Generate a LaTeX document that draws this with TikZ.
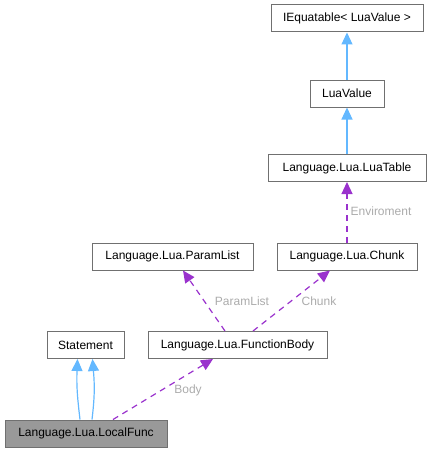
\documentclass[tikz,border=0pt]{standalone}
\usepackage{fontspec}
\setmainfont{Liberation Sans}
\usetikzlibrary{arrows.meta,calc}
\definecolor{boxline}{HTML}{707070}
\definecolor{inhblue}{HTML}{63B8FF}
\definecolor{usepurple}{HTML}{9A32CD}
\definecolor{lblgray}{HTML}{ABABAB}
\definecolor{curfill}{HTML}{999999}
\begin{document}
\begin{tikzpicture}[x=1pt,y=-1pt,
  cls/.style={draw=boxline,line width=1pt,fill=white,minimum height=27pt,inner sep=0pt,font=\fontsize{12}{14}\selectfont},
  inh/.style={draw=inhblue,line width=1.2pt,-{Triangle[width=11pt,length=12pt,fill=inhblue]}},
  usage/.style={draw=usepurple,line width=1.2pt,dash pattern=on 6pt off 5pt,-{Triangle[width=11pt,length=12pt,fill=usepurple]}},
  lbl/.style={text=lblgray,font=\fontsize{12}{14}\selectfont,inner sep=0pt}]
\useasboundingbox (0,0) rectangle (431,452);
\node[cls,minimum width=152pt] (ieq) at (347,18.5) {IEquatable< LuaValue >};
\node[cls,minimum width=74pt] (lv) at (347,93.5) {LuaValue};
\node[cls,minimum width=158pt] (lt) at (347,168) {Language.Lua.LuaTable};
\node[cls,minimum width=161pt] (pl) at (172.5,256.5) {Language.Lua.ParamList};
\node[cls,minimum width=140pt] (ch) at (347,256.5) {Language.Lua.Chunk};
\node[cls,minimum width=77pt] (st) at (85.5,345) {Statement};
\node[cls,minimum width=179pt] (fb) at (237.5,345) {Language.Lua.FunctionBody};
\node[cls,minimum width=162pt,fill=curfill] (lf) at (86,433.5) {Language.Lua.LocalFunc};

\draw[inh] (lv.north) -- (ieq.south);
\draw[inh] (lt.north) -- (lv.south);
\draw[inh] ([xshift=-6pt]lf.north) .. controls ([xshift=-9pt,yshift=25pt]lf.north) and ([xshift=-9pt,yshift=-25pt]st.south) .. ([xshift=-8pt]st.south);
\draw[inh] ([xshift=6pt]lf.north) .. controls ([xshift=9pt,yshift=25pt]lf.north) and ([xshift=9pt,yshift=-25pt]st.south) .. ([xshift=7pt]st.south);

\draw[usage] (ch.north) -- (lt.south);
\draw[usage] ([xshift=-12.5pt]fb.north) -- ([xshift=10.5pt]pl.south);
\draw[usage] ([xshift=15.5pt]fb.north) -- ([xshift=-17pt]ch.south);
\draw[usage] ([xshift=27pt]lf.north) -- ([xshift=-24.5pt]fb.south);

\node[lbl] (lenv) at (381,211) {Enviroment};
\node[lbl] (lpl) at (242,301) {ParamList};
\node[lbl] (lch) at (319,301) {Chunk};
\node[lbl] (lbody) at (188,390) {Body};
\end{tikzpicture}
\end{document}
